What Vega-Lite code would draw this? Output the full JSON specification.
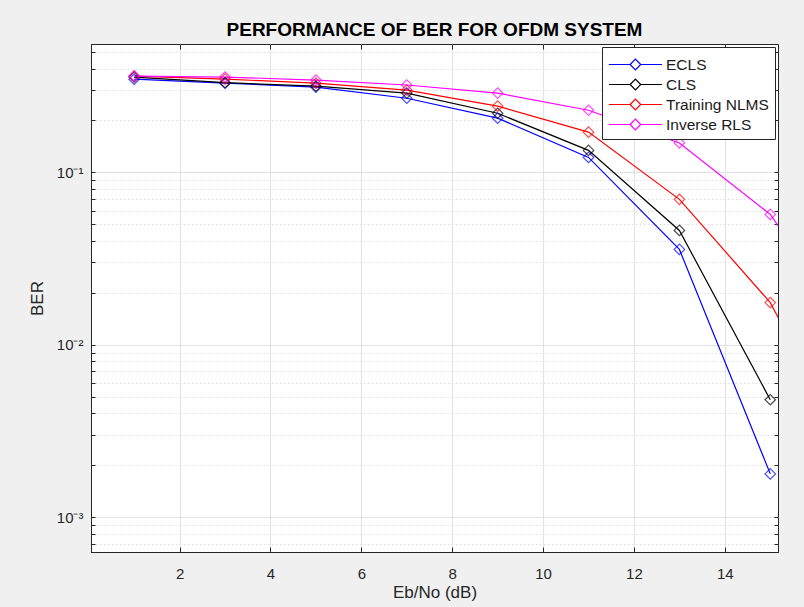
{
  "$schema": "https://vega.github.io/schema/vega-lite/v6.json",
  "autosize": "none",
  "width": 687,
  "height": 508,
  "padding": {"left": 91, "top": 44, "right": 26, "bottom": 55},
  "background": "#f0f0f0",
  "title": {"text": "PERFORMANCE OF BER FOR OFDM SYSTEM", "font": "Liberation Sans", "fontSize": 19, "fontWeight": "bold", "color": "#000000", "anchor": "middle", "frame": "group", "offset": 4},
  "config": {
    "view": {"fill": "#ffffff", "stroke": "#262626", "strokeWidth": 1},
    "axis": {"labelFont": "Liberation Sans", "titleFont": "Liberation Sans", "labelFontSize": 15, "titleFontSize": 17, "titleFontWeight": "normal", "labelColor": "#262626", "titleColor": "#262626", "domainColor": "#262626", "tickColor": "#262626", "gridColor": "#e2e2e2"}
  },
  "data": {"values": [
    {"x": 1, "ber": 0.347, "series": "ECLS"},
    {"x": 3, "ber": 0.329, "series": "ECLS"},
    {"x": 5, "ber": 0.312, "series": "ECLS"},
    {"x": 7, "ber": 0.269, "series": "ECLS"},
    {"x": 9, "ber": 0.206, "series": "ECLS"},
    {"x": 11, "ber": 0.122, "series": "ECLS"},
    {"x": 13, "ber": 0.0357, "series": "ECLS"},
    {"x": 15, "ber": 0.00178, "series": "ECLS"},
    {"x": 1, "ber": 0.357, "series": "CLS"},
    {"x": 3, "ber": 0.331, "series": "CLS"},
    {"x": 5, "ber": 0.316, "series": "CLS"},
    {"x": 7, "ber": 0.288, "series": "CLS"},
    {"x": 9, "ber": 0.220, "series": "CLS"},
    {"x": 11, "ber": 0.134, "series": "CLS"},
    {"x": 13, "ber": 0.046, "series": "CLS"},
    {"x": 15, "ber": 0.00479, "series": "CLS"},
    {"x": 1, "ber": 0.361, "series": "Training NLMS"},
    {"x": 3, "ber": 0.347, "series": "Training NLMS"},
    {"x": 5, "ber": 0.329, "series": "Training NLMS"},
    {"x": 7, "ber": 0.300, "series": "Training NLMS"},
    {"x": 9, "ber": 0.242, "series": "Training NLMS"},
    {"x": 11, "ber": 0.171, "series": "Training NLMS"},
    {"x": 13, "ber": 0.0697, "series": "Training NLMS"},
    {"x": 15, "ber": 0.01754, "series": "Training NLMS"},
    {"x": 17, "ber": 0.00175, "series": "Training NLMS"},
    {"x": 1, "ber": 0.361, "series": "Inverse RLS"},
    {"x": 3, "ber": 0.357, "series": "Inverse RLS"},
    {"x": 5, "ber": 0.343, "series": "Inverse RLS"},
    {"x": 7, "ber": 0.321, "series": "Inverse RLS"},
    {"x": 9, "ber": 0.288, "series": "Inverse RLS"},
    {"x": 11, "ber": 0.229, "series": "Inverse RLS"},
    {"x": 13, "ber": 0.148, "series": "Inverse RLS"},
    {"x": 15, "ber": 0.0570, "series": "Inverse RLS"},
    {"x": 17, "ber": 0.00986, "series": "Inverse RLS"}
  ]},
  "encoding": {
    "x": {"field": "x", "type": "quantitative", "axis": null, "scale": {"domain": [0.05, 15.17], "nice": false, "zero": false}},
    "y": {"field": "ber", "type": "quantitative", "axis": null, "scale": {"type": "log", "domain": [0.000627, 0.555], "nice": false}},
    "color": {"field": "series", "type": "nominal", "scale": {"domain": ["ECLS", "CLS", "Training NLMS", "Inverse RLS"], "range": ["#0000ff", "#000000", "#ff0000", "#ff00ff"]},
      "legend": {"title": null, "orient": "top-right", "offset": 3, "symbolType": "M-1,0L1,0M2,0L4,0M1,0L1.5,-0.5L2,0L1.5,0.5Z", "symbolSize": 450, "symbolStrokeWidth": 1.2, "symbolFillColor": "transparent", "labelOffset": 35, "labelFont": "Liberation Sans", "labelFontSize": 15.5, "labelColor": "#1a1a1a", "fillColor": "#ffffff", "strokeColor": "#262626", "padding": 6, "rowPadding": 0, "cornerRadius": 0}}
  },
  "layer": [
    {
      "mark": {"type": "point", "opacity": 0},
      "encoding": {
        "x": {"field": "x", "type": "quantitative", "axis": {"orient": "top", "values": [2,4,6,8,10,12,14], "labels": false, "grid": false, "domain": false, "tickSize": -5, "title": null}},
        "y": {"field": "ber", "type": "quantitative", "axis": {"orient": "right", "values": [0.0007,0.0008,0.0009,0.001,0.002,0.003,0.004,0.005,0.006,0.007,0.008,0.009,0.01,0.02,0.03,0.04,0.05,0.06,0.07,0.08,0.09,0.1,0.2,0.3,0.4,0.5], "labels": false, "grid": false, "domain": false, "tickSize": -4, "title": null}}
      }
    },
    {
      "mark": {"type": "line", "strokeWidth": 1.2, "clip": true},
      "encoding": {
        "x": {"field": "x", "type": "quantitative", "axis": {"orient": "bottom", "values": [2,4,6,8,10,12,14], "grid": true, "tickSize": -5, "labelPadding": 19, "title": "Eb/No (dB)", "titlePadding": 3}},
        "y": {"field": "ber", "type": "quantitative", "axis": {"orient": "left", "values": [0.0007,0.0008,0.0009,0.001,0.002,0.003,0.004,0.005,0.006,0.007,0.008,0.009,0.01,0.02,0.03,0.04,0.05,0.06,0.07,0.08,0.09,0.1,0.2,0.3,0.4,0.5], "grid": true, "gridDash": {"condition": {"test": "abs(log(datum.value)/LN10 - round(log(datum.value)/LN10)) < 0.000001", "value": []}, "value": [2, 2]}, "tickSize": -4, "labelPadding": 12, "labelExpr": "datum.value === 0.1 ? '10⁻¹' : datum.value === 0.01 ? '10⁻²' : datum.value === 0.001 ? '10⁻³' : ''", "title": "BER", "titlePadding": 10}}
      }
    },
    {
      "mark": {"type": "point", "shape": "diamond", "size": 110, "filled": false, "strokeWidth": 1.2, "clip": true}
    }
  ],
  "resolve": {"axis": {"x": "independent", "y": "independent"}}
}
